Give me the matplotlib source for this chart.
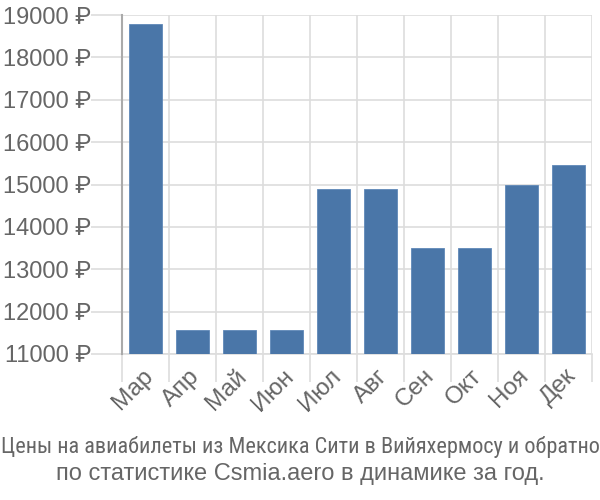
import matplotlib
matplotlib.use("Agg")
import matplotlib.pyplot as plt
import matplotlib.transforms as mtransforms
import numpy as np

months = ["Мар", "Апр", "Май", "Июн", "Июл", "Авг", "Сен", "Окт", "Ноя", "Дек"]
prices = [18780, 11560, 11560, 11560, 14890, 14890, 13510, 13510, 14990, 15450]
yticks = [11000, 12000, 13000, 14000, 15000, 16000, 17000, 18000, 19000]
title1 = "Цены на авиабилеты из Мексика Сити в Вийяхермосу и обратно"
title2 = "по статистике Csmia.aero в динамике за год."

plt.rcParams['font.family'] = ['Liberation Sans', 'Roboto', 'DejaVu Sans']
txt = '#666666'
grid = '#dddddd'

fig = plt.figure(figsize=(6, 5), dpi=100)
ax = fig.add_axes([122/600, 1-354/500, 470/600, 339/500])
x = np.arange(len(months))
ax.bar(x, prices, width=0.72, color='#4a76a8', edgecolor='#5f88b8', linewidth=0.6, zorder=3)
ax.set_xlim(-0.5, len(months)-0.5)
ax.set_ylim(11000, 19000)
ax.set_yticks(yticks)
ax.set_yticklabels([f"{v} ₽" for v in yticks], fontsize=17, color=txt)
ax.set_xticks(x)
ax.set_xticklabels(months, fontsize=17.5, color=txt, rotation=45, ha='right', va='top', rotation_mode='anchor')
ax.tick_params(axis='x', length=0, pad=8)
ax.set_xticks(np.arange(len(months)+1)-0.5, minor=True)
ax.tick_params(axis='x', which='minor', length=20, color=grid, width=1.2)
ax.tick_params(axis='y', length=22, color=grid, width=1.2, pad=0)
ax.grid(True, which='minor', axis='x', color=grid, lw=1.2, zorder=0)
ax.grid(True, which='major', axis='y', color=grid, lw=1.2, zorder=0)
ax.xaxis.get_minor_ticks()[0].tick1line.set_color('#aaaaaa')
for s in ['top', 'right']:
    ax.spines[s].set_visible(False)
ax.spines['left'].set_color('#aaaaaa')
ax.spines['left'].set_linewidth(1.5)
ax.spines['left'].set_zorder(4)
ax.spines['bottom'].set_color(grid)
ax.spines['bottom'].set_linewidth(1.2)
for lab in ax.get_xticklabels():
    lab.set_transform(lab.get_transform() + mtransforms.ScaledTranslation(-4/100, 0, fig.dpi_scale_trans))

fig.text(0.5, 1-447/500, title1, ha='center', va='center', fontsize=16, color=txt, family=['Roboto Condensed', 'Liberation Sans'])
fig.text(0.5, 1-474/500, title2, ha='center', va='center', fontsize=17, color=txt)
fig.savefig("out.png", dpi=100)
